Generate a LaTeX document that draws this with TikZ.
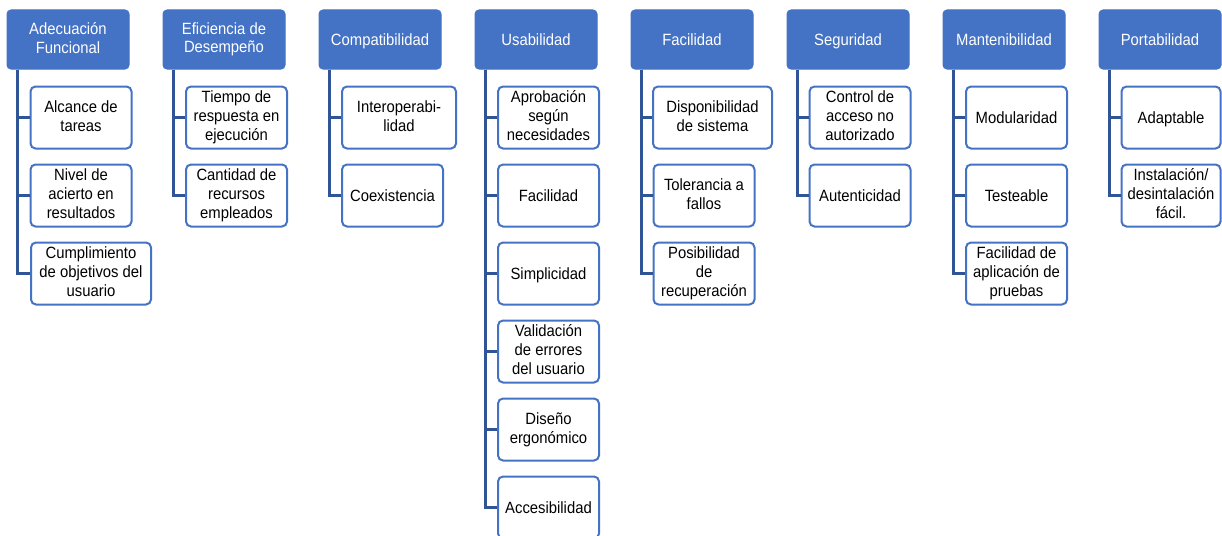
\documentclass[tikz,border=0pt]{standalone}
\usepackage{fontspec}
\setmainfont{Liberation Sans}[FakeStretch=0.91]
\definecolor{hblue}{HTML}{4472C4}
\definecolor{cblue}{HTML}{2F5597}
\newcommand{\topstrut}{\rule{0pt}{15.5pt}}
\newcommand{\botstrut}{\rule[-3.5pt]{0pt}{3.5pt}}
\begin{document}
\begin{tikzpicture}[x=1pt,y=-1pt,
  hdr/.style={rectangle, rounded corners=4pt, fill=hblue, draw=hblue, line width=1pt, text=white,
    minimum width=122pt, minimum height=59pt, inner sep=0pt, align=center,
    font=\fontsize{16.3}{18.5}\selectfont,
    execute at begin node=\topstrut, execute at end node=\botstrut},
  leaf/.style={rectangle, rounded corners=5pt, fill=white, draw=hblue, line width=2pt,
    minimum width=101pt, minimum height=62pt, inner sep=0pt, align=center,
    font=\fontsize{16.3}{19}\selectfont,
    execute at begin node=\topstrut, execute at end node=\botstrut},
  conn/.style={draw=cblue, line width=3pt}]
\useasboundingbox (0,0) rectangle (1222,535);

% headers
\node[hdr] (h1) at (68,39.5) {Adecuación\\Funcional};
\node[hdr] (h2) at (224,39.5) {Eficiencia de\\Desempeño};
\node[hdr] (h3) at (380,39.5) {Compatibilidad};
\node[hdr] (h4) at (536,39.5) {Usabilidad};
\node[hdr] (h5) at (692,39.5) {Facilidad};
\node[hdr] (h6) at (848,39.5) {Seguridad};
\node[hdr] (h7) at (1004,39.5) {Mantenibilidad};
\node[hdr] (h8) at (1160,39.5) {Portabilidad};

% column 1
\node[leaf] (a1) at (81,117.5) {Alcance de\\tareas};
\node[leaf] (a2) at (81,195.5) {Nivel de\\acierto en\\resultados};
\node[leaf, minimum width=120pt] (a3) at (91,273.5) {Cumplimiento\\de objetivos del\\usuario};
% column 2
\node[leaf] (b1) at (236.5,117.5) {Tiempo de\\respuesta en\\ejecución};
\node[leaf] (b2) at (236.5,195.5) {Cantidad de\\recursos\\empleados};
% column 3
\node[leaf, minimum width=114pt] (c1) at (399,117.5) {Interoperabi-\\lidad};
\node[leaf] (c2) at (392.5,195.5) {Coexistencia};
% column 4
\node[leaf] (d1) at (548.5,117.5) {Aprobación\\según\\necesidades};
\node[leaf] (d2) at (548.5,195.5) {Facilidad};
\node[leaf] (d3) at (548.5,273.5) {Simplicidad};
\node[leaf] (d4) at (548.5,351.5) {Validación\\de errores\\del usuario};
\node[leaf] (d5) at (548.5,429.5) {Diseño\\ergonómico};
\node[leaf] (d6) at (548.5,507.5) {Accesibilidad};
% column 5
\node[leaf, minimum width=119pt] (e1) at (712.5,117.5) {Disponibilidad\\de sistema};
\node[leaf] (e2) at (704,195.5) {Tolerancia a\\fallos};
\node[leaf] (e3) at (704,273.5) {Posibilidad\\de\\recuperación};
% column 6
\node[leaf] (f1) at (860,117.5) {Control de\\acceso no\\autorizado};
\node[leaf] (f2) at (860,195.5) {Autenticidad};
% column 7
\node[leaf] (g1) at (1016.5,117.5) {Modularidad};
\node[leaf] (g2) at (1016.5,195.5) {Testeable};
\node[leaf] (g3) at (1016.5,273.5) {Facilidad de\\aplicación de\\pruebas};
% column 8
\node[leaf, minimum width=99pt] (k1) at (1171,117.5) {Adaptable};
\node[leaf, minimum width=99pt] (k2) at (1171,195.5) {Instalación/\\desintalación\\fácil.};

% connectors
\foreach \h/\c in {h1/a1,h1/a2,h1/a3,h2/b1,h2/b2,h3/c1,h3/c2,
  h4/d1,h4/d2,h4/d3,h4/d4,h4/d5,h4/d6,h5/e1,h5/e2,h5/e3,
  h6/f1,h6/f2,h7/g1,h7/g2,h7/g3,h8/k1,h8/k2}
  \draw[conn] ([xshift=10.5pt]\h.south west) |- (\c.west);
\end{tikzpicture}
\end{document}
